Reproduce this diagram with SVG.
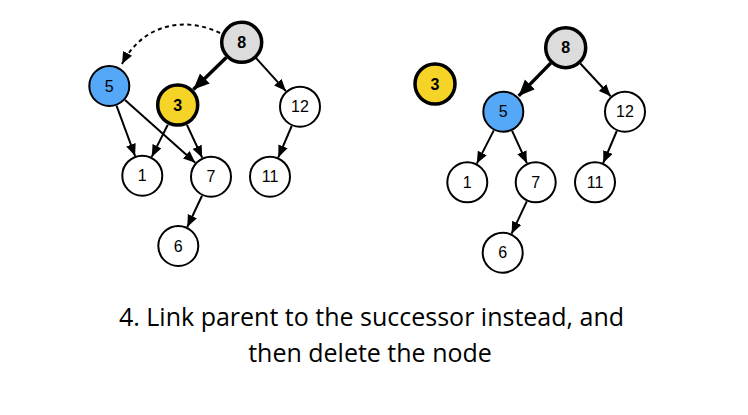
<svg xmlns="http://www.w3.org/2000/svg" width="748" height="415" viewBox="0 0 748 415">
<defs>
<style>
.n{stroke:#000;stroke-width:2;fill:#fff}
.thick{stroke-width:3.5}
.gray{fill:#dcdcdc}
.blue{fill:#55a8f8}
.yellow{fill:#f5d327}
.lbl{font-family:"Liberation Sans",Arial,sans-serif;font-size:16px;text-anchor:middle;fill:#000}
.b{font-weight:bold}
.e{stroke:#000;stroke-width:2;fill:none;marker-end:url(#ah)}
.et{stroke:#000;stroke-width:3.5;fill:none;marker-end:url(#ahb)}
.cap{font-family:"Open Sans","Noto Sans",sans-serif;font-size:25px;text-anchor:middle;fill:#000}
</style>
<marker id="ah" markerUnits="userSpaceOnUse" markerWidth="14" markerHeight="12" refX="12" refY="5" orient="auto"><path d="M0,0 L12,5 L0,10 z" fill="#000"/></marker>
<marker id="ahb" markerUnits="userSpaceOnUse" markerWidth="18" markerHeight="16" refX="16" refY="7" orient="auto"><path d="M0,0 L16,7 L0,14 z" fill="#000"/></marker>
</defs>
<rect width="748" height="415" fill="#fff"/>
<g id="connectors">
<path class="et" d="M226.3,57.4 L193.4,89.6"/>
<path class="e" d="M256.1,58.2 L285.9,91.1"/>
<path class="e" d="M116.5,105.7 L135.1,156.0"/>
<path class="e" d="M125.0,100.0 L195.3,162.7"/>
<path class="e" d="M167.8,124.7 L151.7,156.9"/>
<path class="e" d="M187.0,125.0 L202.2,157.7"/>
<path class="e" d="M291.7,126.0 L278.3,157.4"/>
<path class="e" d="M202.0,195.7 L187.3,227.0"/>
<path class="e" d="M220,33 C190,18 145,20 122,64" stroke-dasharray="4,3.5"/>
<path class="et" d="M550.7,63.1 L518.7,95.9"/>
<path class="e" d="M580.3,63.5 L610.7,96.3"/>
<path class="e" d="M493.8,130.4 L476.8,163.6"/>
<path class="e" d="M512.1,130.8 L526.9,163.2"/>
<path class="e" d="M616.8,131.0 L603.2,163.0"/>
<path class="e" d="M526.8,201.3 L511.6,233.7"/>
</g>
<g id="L8"><circle class="n thick gray" cx="241.7" cy="42.3" r="20"/><text class="lbl b" x="241.7" y="48">8</text></g>
<g id="L5"><circle class="n blue" cx="109.3" cy="86" r="20"/><text class="lbl" x="109.3" y="91.7">5</text></g>
<g id="L3"><circle class="n thick yellow" cx="177.7" cy="105" r="20"/><text class="lbl b" x="177.7" y="110.7">3</text></g>
<g id="L12"><circle class="n" cx="300" cy="106.7" r="20"/><text class="lbl" x="300" y="112.4">12</text></g>
<g id="L1"><circle class="n" cx="142.3" cy="175.7" r="20"/><text class="lbl" x="142.3" y="181.4">1</text></g>
<g id="L7"><circle class="n" cx="211" cy="176.7" r="20"/><text class="lbl" x="211" y="182.4">7</text></g>
<g id="L11"><circle class="n" cx="270" cy="176.7" r="20"/><text class="lbl" x="270" y="182.4">11</text></g>
<g id="L6"><circle class="n" cx="178.3" cy="246" r="20"/><text class="lbl" x="178.3" y="251.7">6</text></g>
<g id="R3"><circle class="n thick yellow" cx="435" cy="84" r="20"/><text class="lbl b" x="435" y="89.7">3</text></g>
<g id="R8"><circle class="n thick gray" cx="565.7" cy="47.7" r="20"/><text class="lbl b" x="565.7" y="53.4">8</text></g>
<g id="R5"><circle class="n blue" cx="503.3" cy="111.7" r="20"/><text class="lbl" x="503.3" y="117.4">5</text></g>
<g id="R12"><circle class="n" cx="625" cy="111.7" r="20"/><text class="lbl" x="625" y="117.4">12</text></g>
<g id="R1"><circle class="n" cx="467.3" cy="182.3" r="20"/><text class="lbl" x="467.3" y="188">1</text></g>
<g id="R7"><circle class="n" cx="535.7" cy="182.3" r="20"/><text class="lbl" x="535.7" y="188">7</text></g>
<g id="R11"><circle class="n" cx="595" cy="182.3" r="20"/><text class="lbl" x="595" y="188">11</text></g>
<g id="R6"><circle class="n" cx="502.7" cy="252.7" r="20"/><text class="lbl" x="502.7" y="258.4">6</text></g>
<text class="cap" x="371.5" y="326">4. Link parent to the successor instead, and</text>
<text class="cap" x="370" y="362">then delete the node</text>
</svg>
